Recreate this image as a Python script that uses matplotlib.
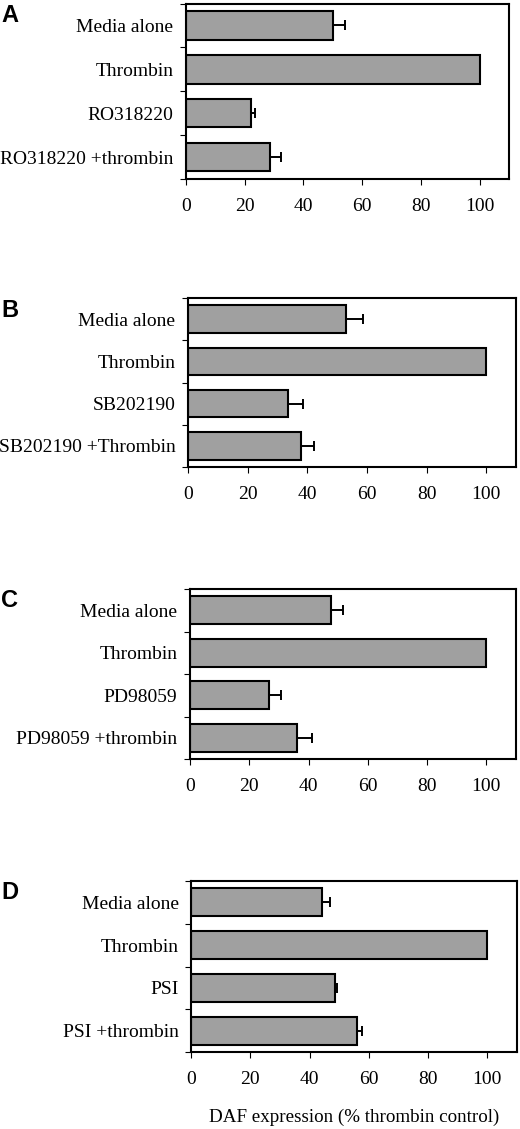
import numpy as np
import matplotlib
matplotlib.use("Agg")
import matplotlib.pyplot as plt

plt.rcParams['font.family'] = ['Liberation Serif', 'DejaVu Serif']

# ---- data ----
panel_letters = ["A", "B", "C", "D"]
labels_A = ["Media alone", "Thrombin", "RO318220", "RO318220 +thrombin"]
values_A = [50.0, 100.0, 22.0, 28.6]
errors_A = [4.2, 0.0, 1.5, 3.8]

labels_B = ["Media alone", "Thrombin", "SB202190", "SB202190 +Thrombin"]
values_B = [53.0, 100.0, 33.6, 37.9]
errors_B = [5.6, 0.0, 5.0, 4.2]

labels_C = ["Media alone", "Thrombin", "PD98059", "PD98059 +thrombin"]
values_C = [47.5, 100.0, 26.5, 36.2]
errors_C = [4.2, 0.0, 4.3, 5.0]

labels_D = ["Media alone", "Thrombin", "PSI", "PSI +thrombin"]
values_D = [44.2, 100.0, 48.5, 56.0]
errors_D = [2.6, 0.0, 0.8, 1.7]

xticks = [0, 20, 40, 60, 80, 100]
xlabel_text = "DAF expression (% thrombin control)"

panels = [
    (labels_A, values_A, errors_A),
    (labels_B, values_B, errors_B),
    (labels_C, values_C, errors_C),
    (labels_D, values_D, errors_D),
]

# ---- layout (pixel boxes: left, right, top, bottom) ----
W, H = 520, 1129
boxes = [
    (186, 509, 3.5, 179),
    (188, 516, 298, 467),
    (190, 516, 589, 759),
    (191, 517, 881, 1052),
]
letter_y = [4, 299, 589, 881]

fig = plt.figure(figsize=(W / 100, H / 100), dpi=100)
fig.patch.set_facecolor("white")

FS = 14

for (labels, vals, errs), (L, R, T, B), letter, ly in zip(panels, boxes, panel_letters, letter_y):
    ax = fig.add_axes([L / W, 1 - B / H, (R - L) / W, (B - T) / H])
    pos = np.arange(len(labels))
    ax.barh(pos, vals, height=0.65, color="#a0a0a0", edgecolor="black",
            linewidth=1.5, zorder=2)
    e = np.array(errs)
    m = e > 0
    ax.errorbar(np.array(vals)[m], pos[m], xerr=[np.zeros(m.sum()), e[m]],
                fmt="none", ecolor="black", elinewidth=1.4, capsize=3.6,
                capthick=1.4, zorder=3)
    ax.set_xlim(0, 110)
    ax.set_ylim(len(labels) - 0.5, -0.5)
    ax.set_xticks(xticks)
    ax.set_xticklabels([str(t) for t in xticks], fontsize=FS)
    ax.set_yticks(np.arange(-0.5, len(labels), 1.0))
    ax.set_yticklabels([])
    ax.set_yticks(pos, minor=True)
    ax.set_yticklabels(labels, minor=True, fontsize=FS)
    ax.tick_params(axis="y", which="minor", length=0, pad=9)
    ax.tick_params(axis="y", which="major", length=4, width=0.8, direction="out")
    ax.tick_params(axis="x", which="major", length=4, width=0.8, direction="out", pad=10)
    for sp in ax.spines.values():
        sp.set_linewidth(1.5)
    fig.text(1 / W, 1 - ly / H, letter, ha="left", va="top", fontsize=17,
             fontweight="bold", family=["Liberation Sans", "DejaVu Sans"])

fig.text((191 + 517) / 2 / W, 1 - 1117 / H, xlabel_text, ha="center", va="center",
         fontsize=13.7)

fig.savefig("out.png", dpi=100, facecolor="white")
